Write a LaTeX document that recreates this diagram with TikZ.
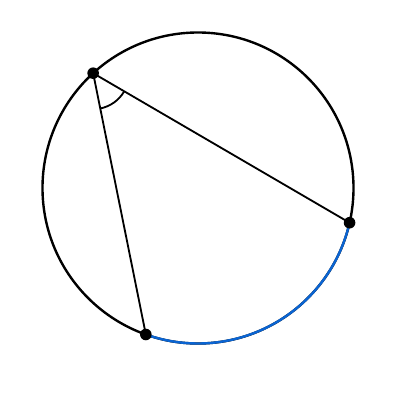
\documentclass[tikz,border=0pt]{standalone}
\usetikzlibrary{calc}
\definecolor{arcblue}{RGB}{10,100,210}
\begin{document}
\begin{tikzpicture}[x=0.25mm,y=0.25mm,
  circ/.style={line width=1.7pt},
  chord/.style={line width=1.3pt},
  pt/.style={circle,fill=black,inner sep=0pt,minimum size=2.9mm}]
\useasboundingbox (0,0) rectangle (400,-400);
\fill[white] (0,0) rectangle (400,-400);
\coordinate (O) at (198,-188);
\coordinate (A) at ([shift={(O)}]132.4:155.5);
\coordinate (B) at ([shift={(O)}]-12.9:155.5);
\coordinate (C) at ([shift={(O)}]250.4:155.5);
\draw[circ] (O) circle[radius=38.875mm];
\draw[circ,arcblue] (C) arc[start angle=250.4,end angle=347.1,radius=38.875mm];
\draw[chord] (A) -- (B);
\draw[chord] (A) -- (C);
\draw[chord] ([shift={(A)}]-78.6:36) arc[start angle=-78.6,end angle=-30.3,radius=9mm];
\node[pt] (a) at (A) {};
\node[pt] (b) at (B) {};
\node[pt] (c) at (C) {};
\end{tikzpicture}
\end{document}
